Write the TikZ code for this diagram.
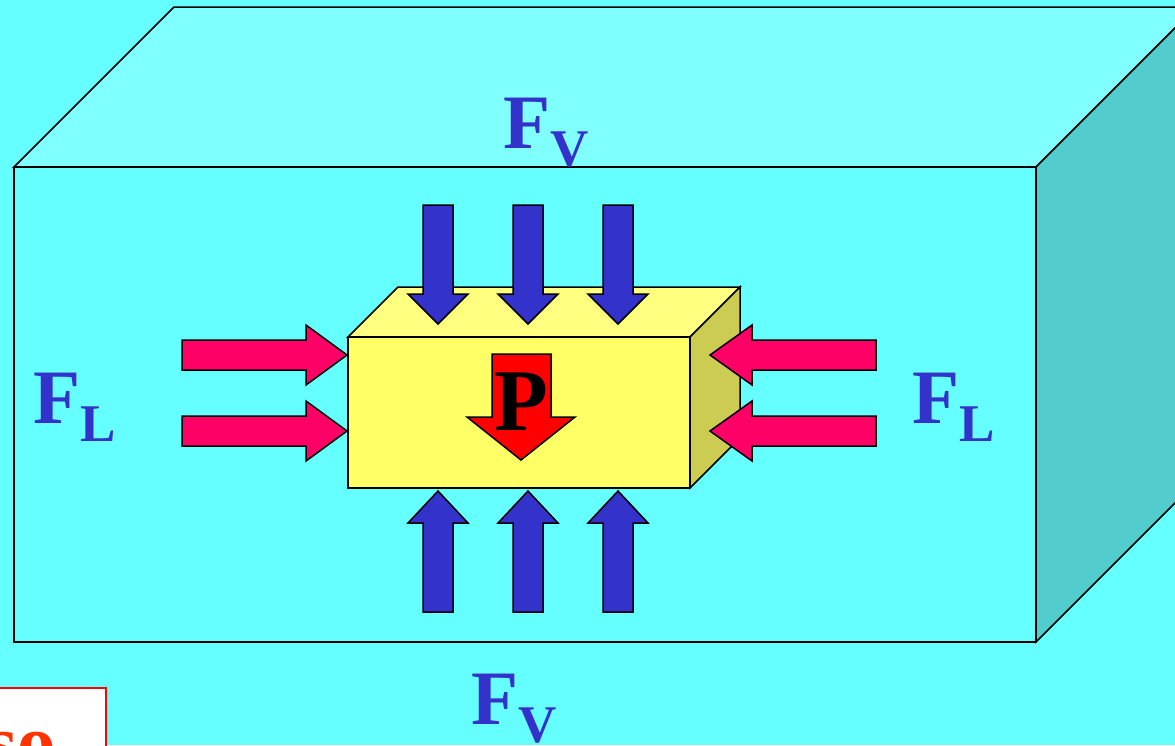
\documentclass[tikz,border=0pt]{standalone}
\usepackage{fontspec}
\setmainfont{Liberation Serif}
\definecolor{sky}{HTML}{66FFFF}
\definecolor{skytop}{HTML}{80FFFF}
\definecolor{skyside}{HTML}{52CCCC}
\definecolor{boxfront}{HTML}{FFFF66}
\definecolor{boxtop}{HTML}{FFFF80}
\definecolor{boxside}{HTML}{CCCC52}
\definecolor{pushblue}{HTML}{3333CC}
\definecolor{pushred}{HTML}{FF0066}
\definecolor{notered}{HTML}{FF3300}
\tikzset{
  face/.style={draw=black,line width=1.5pt,line join=miter},
  vpush/.style={face,fill=pushblue},
  lpush/.style={face,fill=pushred},
  force/.style={text=pushblue,inner sep=0pt,anchor=base west,font=\fontsize{77}{77}\selectfont\bfseries}
}
\newcommand{\forcelabel}[1]{F\raisebox{-18pt}{\fontsize{53}{53}\selectfont #1}}
\begin{document}
\begin{tikzpicture}[x=1pt,y=-1pt]
    \useasboundingbox (0,0) rectangle (1175,745);
    \clip (0,0) rectangle (1175,745);
    \fill[sky] (0,0) rectangle (1175,745);
    % outer block
    \draw[face,fill=skytop] (14,167) -- (174,7) -- (1196,7) -- (1036,167) -- cycle;
    \draw[face,fill=skyside] (1036,167) -- (1196,7) -- (1196,482) -- (1036,642) -- cycle;
    \draw[face,fill=sky] (14,167) rectangle (1036,642);
    % inner block
    \draw[face,fill=boxtop] (348,337) -- (398,287) -- (740,287) -- (690,337) -- cycle;
    \draw[face,fill=boxside] (690,337) -- (740,287) -- (740,438) -- (690,488) -- cycle;
    \draw[face,fill=boxfront] (348,337) rectangle (690,488);
    % vertical pushes
    \foreach \x in {438,528,618} {
        \draw[vpush] (\x-15,205) -- (\x+15,205) -- (\x+15,294) -- (\x+30,294) -- (\x,324) -- (\x-30,294) -- (\x-15,294) -- cycle;
        \draw[vpush] (\x-15,612) -- (\x+15,612) -- (\x+15,523) -- (\x+30,523) -- (\x,491) -- (\x-30,523) -- (\x-15,523) -- cycle;
    }
    % lateral pushes
    \foreach \y in {355,431} {
        \draw[lpush] (182,\y-15) -- (306,\y-15) -- (306,\y-30) -- (347,\y) -- (306,\y+30) -- (306,\y+15) -- (182,\y+15) -- cycle;
        \draw[lpush] (876,\y-15) -- (752,\y-15) -- (752,\y-30) -- (710,\y) -- (752,\y+30) -- (752,\y+15) -- (876,\y+15) -- cycle;
    }
    % weight P
    \draw[face,fill=red] (492,354) -- (551,354) -- (551,417) -- (575,417) -- (521,460) -- (467,417) -- (492,417) -- cycle;
    \node[inner sep=0pt,anchor=base west,font=\fontsize{88}{88}\selectfont\bfseries] (weight) at (494,430) {P};
    % labels
    \node[force] (fvtop) at (503,148) {\forcelabel{V}};
    \node[force] (fvbot) at (471,724) {\forcelabel{V}};
    \node[force] (flleft) at (33,423) {\forcelabel{L}};
    \node[force] (flright) at (912,423) {\forcelabel{L}};
    % corner note
    \draw[red,line width=1.5pt,fill=white] (-5,688) rectangle (106,760);
    \node[text=notered,inner sep=0pt,anchor=base west,font=\fontsize{77}{77}\selectfont\bfseries] (note) at (-13,768) {so};
\end{tikzpicture}
\end{document}
